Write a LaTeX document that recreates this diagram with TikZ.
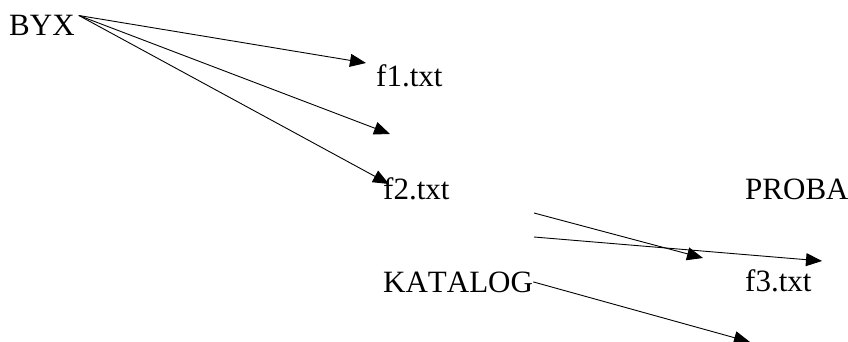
\documentclass[tikz,border=0pt]{standalone}
\usepackage{fontspec}
\setmainfont{Liberation Serif}[Kerning=Off]
\usetikzlibrary{arrows.meta}

\begin{document}
\begin{tikzpicture}[x=1pt,y=-1pt,
    entry/.style={anchor=base west,inner sep=0pt,font=\fontsize{31}{36}\selectfont},
    link/.style={line width=0.9pt,-{Triangle[length=16pt,width=13pt]}}
    ]

    \useasboundingbox (0,0) rectangle (848,342);

    % directory and file names
    \node[entry] (byx) at (9,36) {BYX};
    \node[entry] (f1) at (376,87) {f1.txt};
    \node[entry] (f2) at (383,199) {f2.txt};
    \node[entry] (proba) at (745,199) {PROBA};
    \node[entry] (katalog) at (383,292) {KATALOG};
    \node[entry] (f3) at (745,291) {f3.txt};

    % loose ends of the arrows
    \coordinate (t1) at (366,63);
    \coordinate (t2) at (390,134);
    \coordinate (t3) at (389,184);
    \coordinate (s4) at (534,213);
    \coordinate (t4) at (703,258);
    \coordinate (s5) at (534,237);
    \coordinate (t5) at (822,261);
    \coordinate (t6) at (750,342);

    % BYX
    \draw[link] ([xshift=4pt]byx.north east) -- (t1);
    \draw[link] ([xshift=4pt]byx.north east) -- (t2);
    \draw[link] ([xshift=4pt]byx.north east) -- (t3);

    % between f2.txt and KATALOG
    \draw[link] (s4) -- (t4);
    \draw[link] (s5) -- (t5);

    % KATALOG
    \draw[link] (katalog.east) -- (t6);
\end{tikzpicture}
\end{document}
